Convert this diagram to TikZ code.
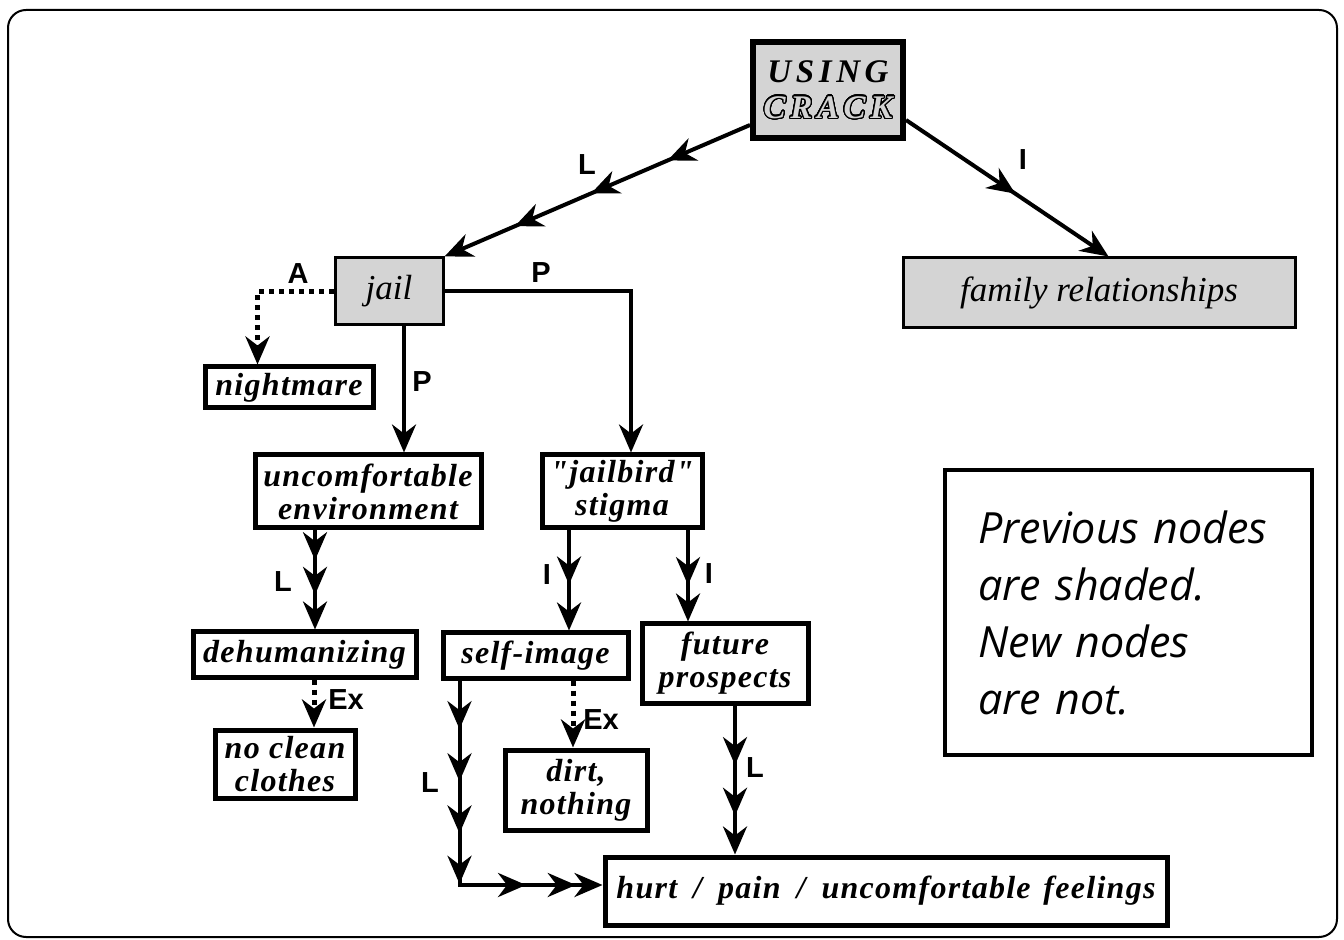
\documentclass[tikz,border=0pt]{standalone}
\usepackage{fontspec}
\usepackage{contour}
\setmainfont{Liberation Serif}
\newfontfamily\boxfont[LetterSpace=4]{Liberation Serif}
\newfontfamily\titlefont[LetterSpace=14]{Liberation Serif}
\newfontfamily\labelfont{Liberation Sans}
\newfontfamily\notefont{Open Sans}
\usetikzlibrary{arrows.meta,decorations.markings,calc}
\contourlength{0.6pt}
\contournumber{32}
\colorlet{shade}{black!17}

\begin{document}
\begin{tikzpicture}[x=0.5pt,y=-0.5pt,
  >={Stealth[length=14pt,width=12pt,inset=4.5pt]},
  box/.style n args={2}{minimum width=#1*0.5pt, minimum height=#2*0.5pt},
  newnode/.style={draw, line width=2.5pt, inner sep=0pt, align=center,
    font=\boxfont\bfseries\itshape\fontsize{16}{16.5}\selectfont},
  oldnode/.style={draw, line width=1.5pt, fill=shade, inner sep=0pt, align=center,
    font=\itshape\fontsize{17.5}{18}\selectfont},
  link/.style={line width=2pt, line join=miter},
  dotlink/.style={line width=2.5pt, dash pattern=on 2.5pt off 2.5pt},
  mid/.style={postaction={decorate, decoration={markings,
    mark=at position #1 with {\arrow{>}}}}},
  lab/.style={inner sep=0pt, font=\labelfont\bfseries\fontsize{14.5}{14.5}\selectfont},
  note/.style={draw, line width=2pt, inner xsep=16.75pt, inner ysep=0pt,
    text width=150pt, align=left,
    font=\notefont\itshape\fontsize{21.5}{28.5}\selectfont}
]
\useasboundingbox (0,0) rectangle (1344,940);

% outer frame
\draw[line width=1pt, rounded corners=9pt] (8,10) rectangle (1337,937);

% shaded (previous) nodes
\node[oldnode, line width=3pt, box={150}{96},
  font=\titlefont\bfseries\itshape\fontsize{16.5}{18}\selectfont] (crack) at (828,90)
  {USING\\{\color{shade}\contour{black}{CRACK}}};
\node[oldnode, box={108}{67}] (jail) at (389,291.5) {jail};
\node[oldnode, box={392}{70}] (family) at (1099,293) {family relationships};

% new nodes
\node[newnode, box={168}{41}] (nightmare) at (289,387.5) {nightmare};
\node[newnode, box={226}{73}] (uncomf) at (368,491.5) {uncomfortable\\environment};
\node[newnode, box={160}{73}] (stigma) at (622,491.5) {"jailbird"\\stigma};
\node[newnode, box={223}{45}] (dehum) at (304.5,654.5) {dehumanizing};
\node[newnode, box={185}{45}] (selfimg) at (535.5,655.5) {self-image};
\node[newnode, box={166}{79}] (future) at (725,663.5) {future\\prospects};
\node[newnode, box={140}{68}] (noclean) at (285,764) {no clean\\clothes};
\node[newnode, box={142}{80}] (dirt) at (576,790) {dirt,\\nothing};
\node[newnode, box={562}{68}] (hurt) at (886,891)
  {hurt\hspace{0.5em}/\hspace{0.5em}pain\hspace{0.5em}/\hspace{0.5em}uncomfortable\hspace{0.4em}feelings};

% legend
\node[note, minimum height=142.5pt] (legend) at (1128.5,612.5)
  {Previous nodes\\are shaded.\\New nodes\\are not.};

% connectors
\draw[link, ->, mid=0.27, mid=0.52, mid=0.77]
  ($(crack.south west)+(0,-16)$) -- (jail.north east);
\draw[link, ->, mid=0.54]
  ($(crack.south east)+(0,-21)$) -- ($(family.north west)+(207,0)$);
\draw[dotlink, ->] (jail.west) -| ($(nightmare.north west)+(55,0)$);
\draw[link, ->] (jail.east) -| ($(stigma.north)+(9,0)$);
\draw[link, ->] ($(jail.south)+(15,0)$) -- ($(uncomf.north)+(36,0)$);
\draw[link, ->, mid=0.3, mid=0.65]
  ($(uncomf.south)+(-53,0)$) -- ($(dehum.north)+(10.5,0)$);
\draw[dotlink, ->] ($(dehum.south)+(9.5,0)$) -- ($(noclean.north)+(29,0)$);
\draw[link, ->, mid=0.54] ($(stigma.south)+(-53,0)$) -- ($(selfimg.north)+(33.5,0)$);
\draw[link, ->, mid=0.6] ($(stigma.south)+(66,0)$) -- ($(future.north)+(-37,0)$);
\draw[dotlink, ->] ($(selfimg.south)+(37.5,0)$) -- ($(dirt.north)+(-3,0)$);
\draw[link, ->, mid=0.14, mid=0.29, mid=0.44, mid=0.585, mid=0.78, mid=0.923]
  ($(selfimg.south west)+(19,0)$) |- ($(hurt.west)+(0,-6)$);
\draw[link, ->, mid=0.4, mid=0.74] ($(future.south)+(10,0)$) -- ($(hurt.north)+(-151,0)$);

% link labels
\node[lab] (lcj) at (587,165) {L};
\node[lab] (lcf) at (1023,160) {I};
\node[lab] (ljn) at (298,274) {A};
\node[lab] (ljs) at (541,273) {P};
\node[lab] (lju) at (422,382) {P};
\node[lab] (lud) at (283,582) {L};
\node[lab] (ldn) at (346,700) {Ex};
\node[lab] (lss) at (547,575) {I};
\node[lab] (lsf) at (709,574) {I};
\node[lab] (lsd) at (601,720) {Ex};
\node[lab] (lsh) at (430,783) {L};
\node[lab] (lfh) at (755,768) {L};
\end{tikzpicture}
\end{document}
